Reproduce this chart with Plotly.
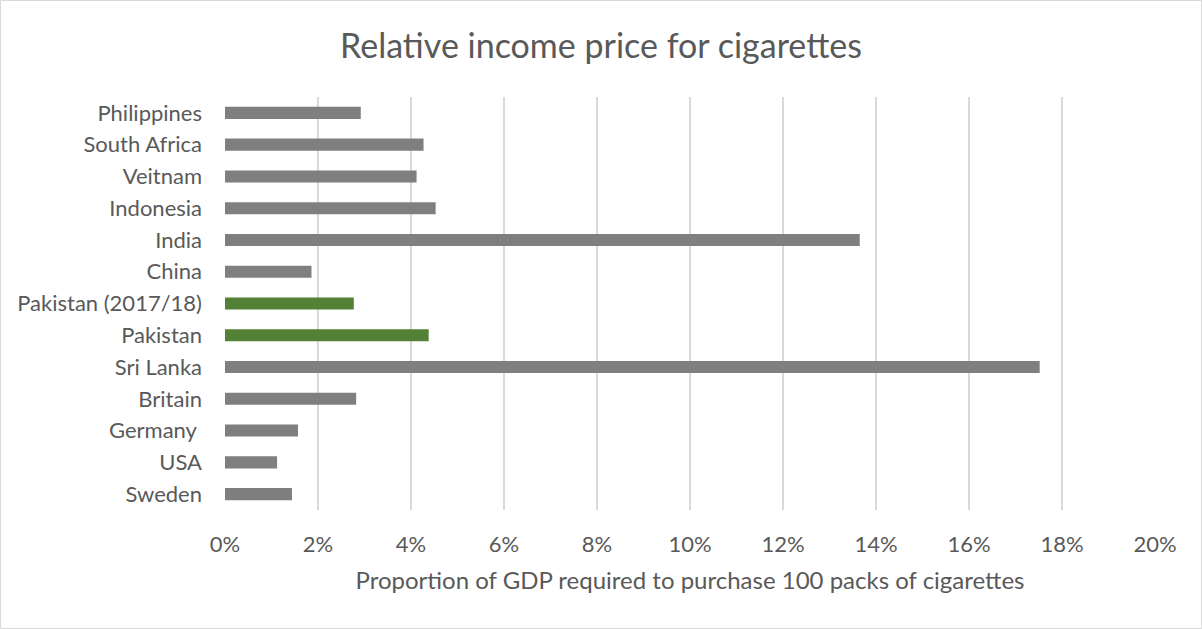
import plotly.graph_objects as go

countries = ["Philippines", "South Africa", "Veitnam", "Indonesia", "India", "China",
             "Pakistan (2017/18)", "Pakistan", "Sri Lanka", "Britain", "Germany ", "USA", "Sweden"]
values = [2.92, 4.27, 4.12, 4.53, 13.65, 1.86, 2.77, 4.38, 17.52, 2.82, 1.57, 1.12, 1.44]
highlight = ["Pakistan (2017/18)", "Pakistan"]
tick_vals = [0, 2, 4, 6, 8, 10, 12, 14, 16, 18, 20]
tick_text = [f"{v}%" for v in tick_vals]

colors = ["#538135" if c in highlight else "#7f7f7f" for c in countries]

fig = go.Figure(go.Bar(
    x=values, y=countries, orientation="h",
    marker=dict(color=colors, line=dict(width=0)),
    hoverinfo="x+y",
))

W, H = 1202, 629
L, R, T, B = 225, 47, 97, 119
pw, ph = W - L - R, H - T - B
FONT = "Lato, Open Sans, sans-serif"

fig.update_layout(
    width=W, height=H,
    margin=dict(l=L, r=R, t=T, b=B),
    paper_bgcolor="white", plot_bgcolor="white",
    font=dict(family=FONT, color="#595959"),
    title=dict(text="Relative income price for cigarettes", x=0.5, xanchor="center",
               y=1 - 46 / H, yanchor="middle",
               font=dict(size=34, color="#595959", family=FONT)),
    bargap=0.62,
    showlegend=False,
    xaxis=dict(range=[0, 20], tickvals=tick_vals, ticktext=tick_text,
               showgrid=True, gridcolor="#d9d9d9", gridwidth=2,
               zeroline=False, showline=False, ticks="",
               ticklabelstandoff=19,
               tickfont=dict(size=22, color="#595959", family=FONT),
               title=dict(text="Proportion of GDP required to purchase 100 packs of cigarettes",
                          font=dict(size=24, color="#595959", family=FONT), standoff=16)),
    yaxis=dict(autorange="reversed", showgrid=False, zeroline=False, showline=False,
               ticks="", ticklabelstandoff=22,
               tickfont=dict(size=22, color="#595959", family=FONT)),
    shapes=[dict(type="rect", xref="paper", yref="paper",
                 x0=-(L - 0.5) / pw, x1=(W - L - 0.5) / pw,
                 y0=-(B - 0.5) / ph, y1=1 + (T - 0.5) / ph,
                 line=dict(color="#d9d9d9", width=1), layer="below")],
)

fig.write_html("out.html", config={"displayModeBar": False},
               post_script="document.body.style.margin='0';document.body.style.padding='0';")
